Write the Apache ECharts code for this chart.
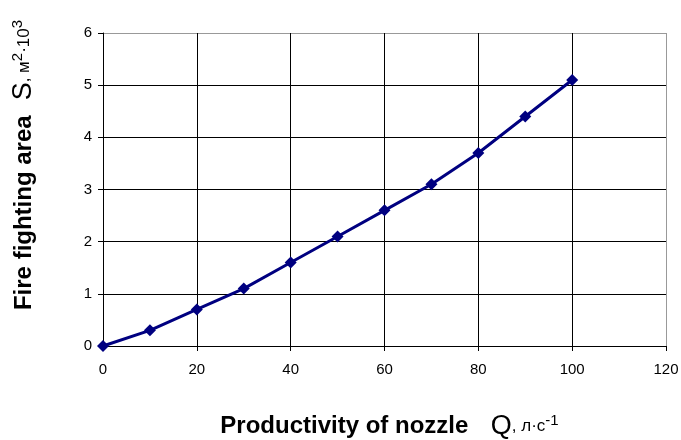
<!DOCTYPE html>
<html>
<head>
<meta charset="utf-8">
<script src="https://cdn.jsdelivr.net/npm/echarts@6/dist/echarts.min.js"></script>
<style>
  html, body { margin: 0; padding: 0; background: #fff; }
  #chart { width: 681px; height: 440px; }
</style>
</head>
<body>
<div id="chart"></div>
<script>
// nozzle productivity Q (l/s) vs fire fighting area S (m2 * 10^3)
const flowQ = [0, 10, 20, 30, 40, 50, 60, 70, 80, 90, 100]
const areaS = [0, 0.3, 0.7, 1.1, 1.6, 2.1, 2.6, 3.1, 3.7, 4.4, 5.1]
const xTicks = [0, 20, 40, 60, 80, 100, 120]
const yTicks = [0, 1, 2, 3, 4, 5, 6]

const chart = echarts.init(document.getElementById('chart'))

const font = 'Liberation Sans, Arial, sans-serif'
// last grid line on each axis is grey (plot border), the rest black
const xLineColors = xTicks.map((t, i) => i === xTicks.length - 1 ? '#999' : '#000')
const yLineColors = yTicks.map((t, i) => i === yTicks.length - 1 ? '#999' : '#000')

const titleRich = {
  b: { fontFamily: font, fontWeight: 'bold', fontSize: 24, color: '#000' },
  s: { fontFamily: font, fontSize: 27, color: '#000' },
  n: { fontFamily: font, fontSize: 17, color: '#000' },
  sup: { fontFamily: font, fontSize: 15, color: '#000', verticalAlign: 'top' }
}

const option = {
  animation: false,
  backgroundColor: '#fff',
  grid: { left: 103, right: 15, top: 33, bottom: 94, outerBoundsMode: 'none' },
  xAxis: {
    type: 'value',
    min: 0,
    max: 120,
    interval: 20,
    name: '{b|Productivity of nozzle}{s|   Q}{n|, л·с}{sup|-1}',
    nameLocation: 'middle',
    nameGap: 67,
    nameTextStyle: { rich: titleRich, padding: [0, 0, 0, 10] },
    axisLine: { lineStyle: { color: '#000', width: 1 } },
    axisTick: { show: true, length: 5, lineStyle: { color: '#000' } },
    axisLabel: { margin: 16, fontFamily: font, fontSize: 15, color: '#000' },
    splitLine: { show: true, lineStyle: { color: xLineColors, width: 1 } }
  },
  yAxis: {
    type: 'value',
    min: 0,
    max: 6,
    interval: 1,
    axisLine: { show: true, lineStyle: { color: '#000', width: 1 } },
    axisTick: { show: true, length: 5, lineStyle: { color: '#000' } },
    axisLabel: { margin: 11, fontFamily: font, fontSize: 15, color: '#000' },
    splitLine: { show: true, lineStyle: { color: yLineColors, width: 1 } }
  },
  graphic: [{
    type: 'text',
    x: 24,
    y: 165,
    rotation: Math.PI / 2,
    style: {
      text: '{b|Fire fighting area}{s|  S}{n|, м}{sup|2}{n|·10}{sup|3}',
      rich: titleRich,
      align: 'center',
      verticalAlign: 'middle'
    }
  }],
  series: [{
    type: 'line',
    data: flowQ.map((q, i) => [q, areaS[i]]),
    symbol: 'diamond',
    symbolSize: 12,
    lineStyle: { color: '#000080', width: 3 },
    itemStyle: { color: '#000080' }
  }]
}

chart.setOption(option)
</script>
</body>
</html>
